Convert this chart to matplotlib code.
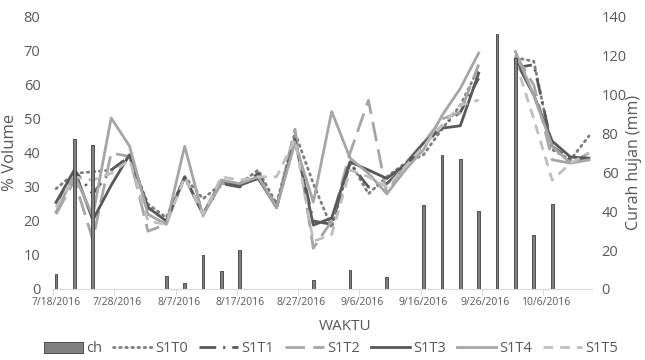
import matplotlib
matplotlib.use('Agg')
import matplotlib.pyplot as plt
import numpy as np
import pandas as pd

nan = np.nan

# tanggal pengamatan (tiap 3 hari)
dates = ['2016-07-18', '2016-07-21', '2016-07-24', '2016-07-27', '2016-07-30',
         '2016-08-02', '2016-08-05', '2016-08-08', '2016-08-11', '2016-08-14',
         '2016-08-17', '2016-08-20', '2016-08-23', '2016-08-26', '2016-08-29',
         '2016-09-01', '2016-09-04', '2016-09-07', '2016-09-10', '2016-09-13',
         '2016-09-16', '2016-09-19', '2016-09-22', '2016-09-25', '2016-09-28',
         '2016-10-01', '2016-10-04', '2016-10-07', '2016-10-10', '2016-10-13']

# curah hujan (mm)
ch = [7.5, 77, 74, 0, 0, 0, 6.5, 3, 17.5, 9.5,
      20, 0, 0, 0, 4.5, 0, 10, 0, 6, 0,
      43, 69, 67, 40, 131, 119, 28, 44, 0, 0]

# % volume
S1T0 = [29.5, 34, 34.5, 35, 39, 25, 21, 33, 26.5, 31,
        31, 35, 25, 46, 31, 18, 37.5, 28, 33, 37,
        39.5, 47, 54, 65, nan, 68, 67, 41, 38, 45]
S1T1 = [25, 35, 28, 35, 39, 24, 20, 33, 22, 31,
        30, 34, 24, 44, 20, 19, 37, 30, 31, 36,
        42, 48, 52, 62, nan, 65, 66, 42, 38, 38]
S1T2 = [22, 32, 14.5, 40, 39, 17, 19, 33, 22, 31,
        31, 33, 24, 47, 12, 20, 40, 55.5, 28, 37,
        43, 50, 52, 66, nan, 69, 60, 38, 37, 40]
S1T3 = [25.5, 35, 20.3, 30.5, 39.5, 24, 20, 33, 22, 32,
        30.5, 32.5, 24, 44, 18.8, 20.9, 37.4, 35, 32.5, 36.5,
        43, 47.3, 48, 63.5, nan, 67.3, 57, 43.5, 38.8, 38.5]
S1T4 = [22.6, 33.5, 21.5, 50.3, 42, 22, 19, 42, 21.5, 32,
        31, 33, 24, 43, 25.6, 52.2, 38.5, 34, 28, 35,
        41, 51, 59, 69.4, nan, 69.8, 57, 42, 37, 38]
S1T5 = [24, 33, 32, 34, 38, 20, 19, 33, 22, 33,
        32, 33, 33, 44, 14, 16, 35, 33, 30, 36,
        42, 48, 54, 55.6, nan, 67, 50, 32, 37, 40]

x_labels = ['7/18/2016', '7/28/2016', '8/7/2016', '8/17/2016', '8/27/2016',
            '9/6/2016', '9/16/2016', '9/26/2016', '10/6/2016']

plt.rcParams['font.family'] = ['Open Sans', 'DejaVu Sans']
txt = '#595959'

d = pd.to_datetime(dates)
day = np.array((d - d[0]).days, dtype=float)
lab_day = np.array((pd.to_datetime(x_labels, format='%m/%d/%Y') - d[0]).days, dtype=float)

fig = plt.figure(figsize=(6.45, 3.6), dpi=100)
ax = fig.add_axes([53 / 645, 71 / 360, 539 / 645, 272 / 360])
ax2 = ax.twinx()

styles = [
    ('S1T0', S1T0, '#7f7f7f', (0, (0.6, 1.6)), 'round'),
    ('S1T1', S1T1, '#595959', (0, (6, 2.5, 0.8, 2.5)), 'butt'),
    ('S1T2', S1T2, '#a6a6a6', (0, (7, 3)), 'butt'),
    ('S1T3', S1T3, '#595959', '-', 'butt'),
    ('S1T4', S1T4, '#a6a6a6', '-', 'butt'),
    ('S1T5', S1T5, '#bfbfbf', (0, (3.5, 2.5)), 'butt'),
]
handles = []
for name, vals, col, ls, cap in styles:
    ln, = ax.plot(day, vals, color=col, lw=2.0, linestyle=ls,
                  dash_capstyle=cap, label=name)
    handles.append(ln)

bars = ax2.bar(day, ch, width=0.45, color='#808080', edgecolor='#404040',
               linewidth=0.6, label='ch')

ax.set_xlim(-0.5, 87.5)
ax.set_ylim(0, 80)
ax2.set_ylim(0, 140)
ax.set_yticks(range(0, 81, 10))
ax2.set_yticks(range(0, 141, 20))

ax.set_xticks(lab_day)
ax.set_xticklabels(x_labels, fontsize=7.5, color=txt)
ax.set_xticks(np.arange(-0.5, 88, 10), minor=True)
ax.tick_params(axis='x', which='major', length=0, pad=6)
ax.tick_params(axis='x', which='minor', length=4, color='#d9d9d9', width=0.8)
ax.tick_params(axis='y', length=0, labelsize=10.5, labelcolor=txt, pad=9)
ax2.tick_params(axis='y', length=0, labelsize=10.5, labelcolor=txt, pad=7)

for a in (ax, ax2):
    for s in ('top', 'left', 'right'):
        a.spines[s].set_visible(False)
    a.spines['bottom'].set_color('#d9d9d9')
    a.spines['bottom'].set_linewidth(0.8)
ax2.spines['bottom'].set_visible(False)

fig.text(10 / 645, 1 - 152 / 360, '% Volume', rotation=90, ha='center',
         va='center', fontsize=12, color=txt)
fig.text(634 / 645, 1 - 162 / 360, 'Curah hujan (mm)', rotation=90,
         ha='center', va='center', fontsize=11.5, color=txt)
fig.text(345 / 645, 1 - 327 / 360, 'WAKTU', ha='center', va='center',
         fontsize=11, color=txt)

leg = fig.legend([bars] + handles, ['ch'] + [s[0] for s in styles],
                 loc='center', bbox_to_anchor=(331 / 645, 1 - 349 / 360),
                 ncol=7, frameon=False, fontsize=10.5, handlelength=2.7,
                 handletextpad=0.2, columnspacing=0.75, borderaxespad=0)
for t in leg.get_texts():
    t.set_color(txt)

fig.savefig('out.png', dpi=100)
